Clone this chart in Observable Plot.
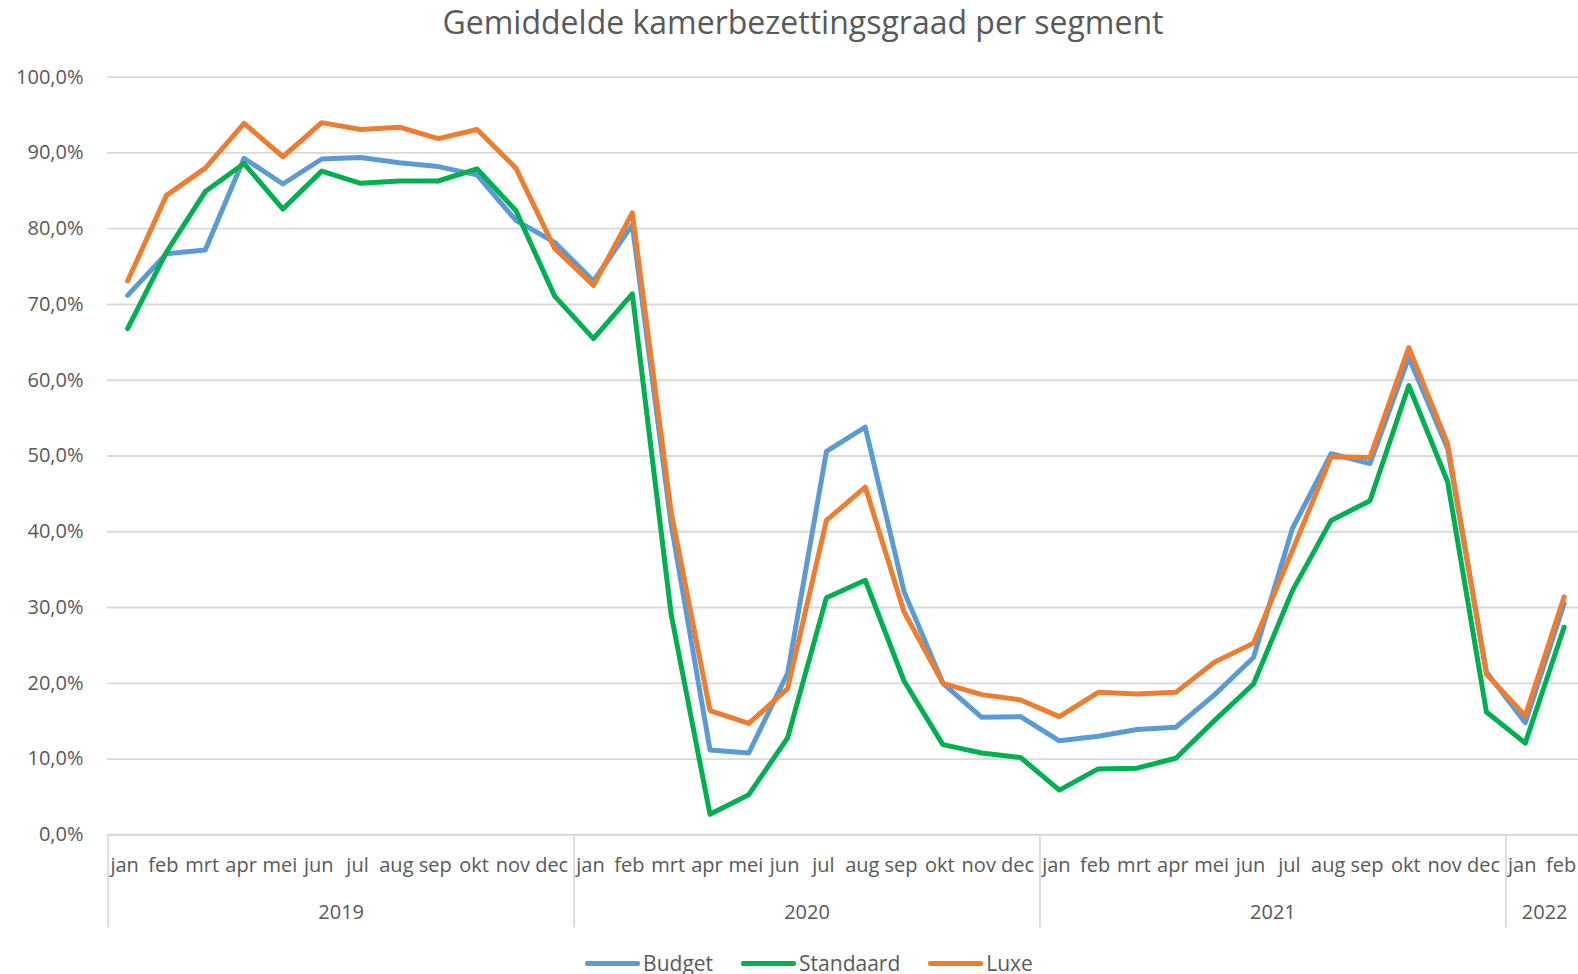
<!DOCTYPE html>
<html>
<head>
<meta charset="utf-8">
<script src="https://cdn.jsdelivr.net/npm/d3@7"></script>
<script src="https://cdn.jsdelivr.net/npm/@observablehq/plot@0.6"></script>
<style>
  html, body { margin: 0; padding: 0; background: #fff; overflow: hidden; }
  body { width: 1578px; height: 974px; font-family: "Open Sans", sans-serif; color: #595959; }
  #title { height: 46px; line-height: 44px; font-size: 32px; text-align: center; color: #595959; padding-left: 28px; box-sizing: border-box; }
  #chart svg { display: block; }
  #legend { height: 46px; display: flex; justify-content: center; align-items: center; font-size: 21px; color: #595959; padding-left: 40px; box-sizing: border-box; }
  .item { display: flex; align-items: center; margin: 0 14px; }
  .sw { width: 55px; height: 5px; border-radius: 2px; margin-right: 3px; }
</style>
</head>
<body>
<div id="title">Gemiddelde kamerbezettingsgraad per segment</div>
<div id="chart"></div>
<div id="legend"></div>
<script>
const monthLabels = [
  "jan","feb","mrt","apr","mei","jun","jul","aug","sep","okt","nov","dec",
  "jan","feb","mrt","apr","mei","jun","jul","aug","sep","okt","nov","dec",
  "jan","feb","mrt","apr","mei","jun","jul","aug","sep","okt","nov","dec",
  "jan","feb"
];
const years = ["2019","2020","2021","2022"];
const monthsPerYear = [12, 12, 12, 2];
const yTicks = [0,10,20,30,40,50,60,70,80,90,100];

const budget = [71.2,76.7,77.2,89.3,85.9,89.2,89.4,88.7,88.2,87.1,81.1,78.2,
  73.1,80.5,41.0,11.2,10.8,21.3,50.6,53.8,32.1,20.0,15.5,15.6,
  12.4,13.0,13.9,14.2,18.5,23.4,40.4,50.3,49.0,63.0,51.0,21.5,
  14.8,30.5];
const standaard = [66.8,76.9,84.9,88.6,82.6,87.6,86.0,86.3,86.3,87.9,82.4,71.1,
  65.5,71.4,29.1,2.7,5.3,12.8,31.3,33.6,20.3,11.9,10.8,10.2,
  5.9,8.7,8.8,10.1,15.1,19.9,32.2,41.5,44.1,59.3,46.6,16.2,
  12.1,27.4];
const luxe = [73.1,84.4,88.0,93.9,89.5,94.0,93.1,93.4,91.9,93.1,88.0,77.4,
  72.5,82.1,42.6,16.4,14.7,19.3,41.5,45.9,29.4,20.0,18.5,17.8,
  15.6,18.8,18.6,18.8,22.8,25.3,37.5,49.9,49.8,64.3,51.6,21.2,
  15.7,31.4];

const seriesNames = ["Budget","Standaard","Luxe"];
const seriesColors = ["#5b9bd5","#00b050","#ed7d31"];
const seriesValues = [budget, standaard, luxe];

const rows = [];
seriesValues.forEach((vals, s) => vals.forEach((v, i) => rows.push({series: seriesNames[s], i, v})));

const yearGroups = [];
const boundaries = [-0.5];
let start = 0;
monthsPerYear.forEach((n, k) => {
  yearGroups.push({year: years[k], c: start + (n - 1) / 2});
  start += n;
  if (k < monthsPerYear.length - 1) boundaries.push(start - 0.5);
});

const fmt = v => v.toFixed(1).replace(".", ",") + "%";

const chart = Plot.plot({
  width: 1578,
  height: 894,
  marginLeft: 107,
  marginRight: 0,
  marginTop: 30.7,
  marginBottom: 105.7,
  x: {type: "linear", domain: [-0.5, monthLabels.length - 0.5], range: [107.7, 1583], axis: null},
  y: {domain: [0, 100], axis: null},
  color: {domain: seriesNames, range: seriesColors},
  style: {fontFamily: "Open Sans, sans-serif", fontSize: "20px", color: "#595959", background: "white", overflow: "hidden"},
  marks: [
    Plot.gridY(yTicks.filter(t => t > 0), {stroke: "#d9d9d9", strokeOpacity: 1, strokeWidth: 1.8}),
    Plot.ruleY([0], {stroke: "#d9d9d9", strokeWidth: 2.2}),
    Plot.axisY(yTicks, {label: null, tickSize: 0, tickPadding: 24, tickFormat: fmt, fontSize: 20, fill: "#595959"}),
    Plot.axisX(boundaries, {label: null, tickSize: 93, tickFormat: () => "", stroke: "#d9d9d9", strokeWidth: 1.8}),
    Plot.text(monthLabels.map((m, i) => i), {x: d => d, text: d => monthLabels[d], frameAnchor: "bottom", dy: 37, dx: -3, fill: "#595959", fontSize: 20}),
    Plot.text(yearGroups, {x: "c", text: "year", frameAnchor: "bottom", dy: 84, fill: "#595959", fontSize: 20}),
    Plot.line(rows, {x: "i", y: "v", z: "series", stroke: "series", strokeWidth: 5, strokeLinejoin: "round", strokeLinecap: "round"})
  ]
});
document.getElementById("chart").appendChild(chart);

const legend = document.getElementById("legend");
seriesNames.forEach((n, k) => {
  const it = document.createElement("div");
  it.className = "item";
  it.innerHTML = `<div class="sw" style="background:${seriesColors[k]}"></div><span>${n}</span>`;
  legend.appendChild(it);
});
</script>
</body>
</html>
